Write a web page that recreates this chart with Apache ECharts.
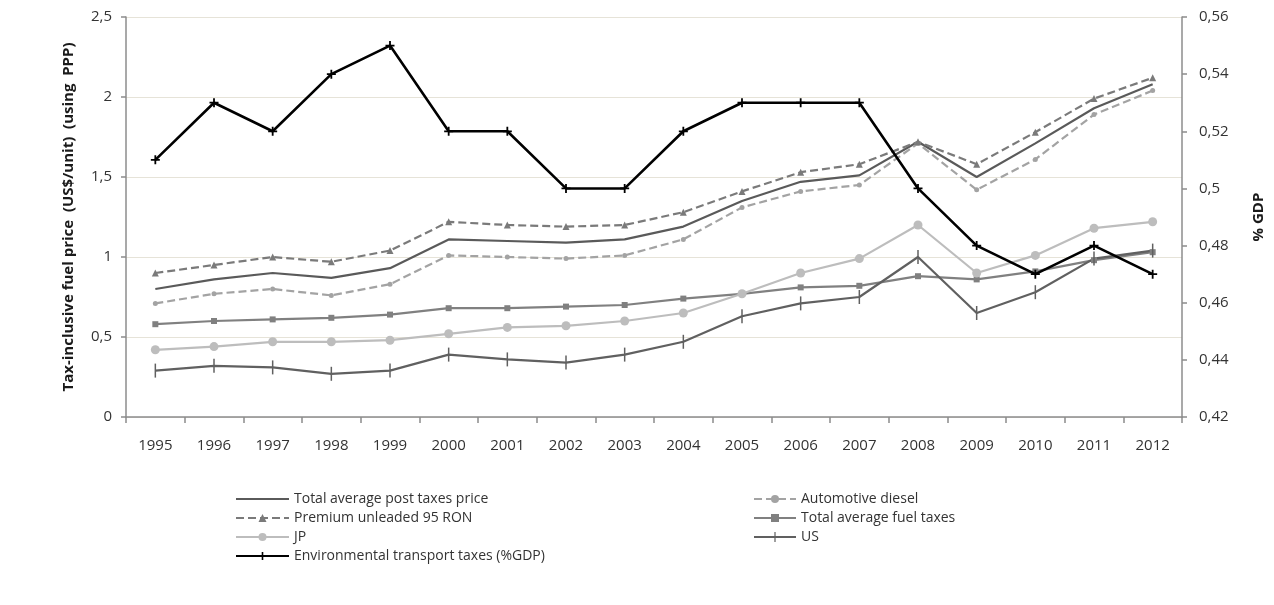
<!DOCTYPE html>
<html>
<head>
<meta charset="utf-8">
<script src="https://cdn.jsdelivr.net/npm/echarts@6/dist/echarts.min.js"></script>
<style>
  html, body { margin: 0; padding: 0; background: #ffffff; }
  #chart { width: 1274px; height: 605px; }
</style>
</head>
<body>
<div id="chart"></div>
<script>
// Fuel prices (US$/unit, PPP) and environmental transport taxes (% of GDP), 1995-2012
const years = ['1995','1996','1997','1998','1999','2000','2001','2002','2003','2004','2005','2006','2007','2008','2009','2010','2011','2012'];

const totalPostTax   = [0.80, 0.86, 0.90, 0.87, 0.93, 1.11, 1.10, 1.09, 1.11, 1.19, 1.35, 1.47, 1.51, 1.72, 1.50, 1.71, 1.93, 2.08];
const diesel         = [0.71, 0.77, 0.80, 0.76, 0.83, 1.01, 1.00, 0.99, 1.01, 1.11, 1.31, 1.41, 1.45, 1.71, 1.42, 1.61, 1.89, 2.04];
const premium95      = [0.90, 0.95, 1.00, 0.97, 1.04, 1.22, 1.20, 1.19, 1.20, 1.28, 1.41, 1.53, 1.58, 1.72, 1.58, 1.78, 1.99, 2.12];
const totalFuelTaxes = [0.58, 0.60, 0.61, 0.62, 0.64, 0.68, 0.68, 0.69, 0.70, 0.74, 0.77, 0.81, 0.82, 0.88, 0.86, 0.91, 0.98, 1.03];
const jp             = [0.42, 0.44, 0.47, 0.47, 0.48, 0.52, 0.56, 0.57, 0.60, 0.65, 0.77, 0.90, 0.99, 1.20, 0.90, 1.01, 1.18, 1.22];
const us             = [0.29, 0.32, 0.31, 0.27, 0.29, 0.39, 0.36, 0.34, 0.39, 0.47, 0.63, 0.71, 0.75, 1.00, 0.65, 0.78, 0.99, 1.04];
const envTaxesGdp    = [0.51, 0.53, 0.52, 0.54, 0.55, 0.52, 0.52, 0.50, 0.50, 0.52, 0.53, 0.53, 0.53, 0.50, 0.48, 0.47, 0.48, 0.47];

const names = {
  total: 'Total average post taxes price',
  diesel: 'Automotive diesel',
  premium: 'Premium unleaded 95 RON',
  taxes: 'Total average fuel taxes',
  jp: 'JP',
  us: 'US',
  env: 'Environmental transport taxes (%GDP)'
};

const FONT = '"Open Sans", Lato, sans-serif';
const comma = v => String(v).replace('.', ',');
const plus = 'path://M4,0 H6 V4 H10 V6 H6 V10 H4 V6 H0 V4 H4 Z';

// legend glyphs: plain line, and line crossed by a short vertical tick
const iconPlainLine = 'path://M0,4.1 H53 V5.9 H0 Z';
const iconTickLine = 'path://M0,4.1 H20.4 V0 H21.6 V4.1 H42 V5.9 H21.6 V10 H20.4 V5.9 H0 Z';

const chart = echarts.init(document.getElementById('chart'), null, { renderer: 'canvas' });

const legendText = { fontFamily: FONT, fontSize: 14, color: '#333333', lineHeight: 16 };

chart.setOption({
  animation: false,
  backgroundColor: '#ffffff',
  grid: { left: 126, right: 89, top: 17, bottom: 188, containLabel: false },
  legend: [
    {
      orient: 'vertical', left: 230, top: 486, itemGap: 3,
      itemWidth: 53, itemHeight: 10,
      textStyle: legendText,
      data: [
        { name: names.total, icon: iconPlainLine },
        names.premium, names.jp, names.env
      ]
    },
    {
      orient: 'vertical', left: 748, top: 486, itemGap: 3,
      itemWidth: 42, itemHeight: 10,
      textStyle: legendText,
      data: [
        names.diesel, names.taxes,
        { name: names.us, icon: iconTickLine }
      ]
    }
  ],
  xAxis: {
    type: 'category',
    data: years,
    boundaryGap: true,
    axisLine: { lineStyle: { color: '#8c8c8c', width: 1.5 } },
    axisTick: { show: true, length: 6, lineStyle: { color: '#8c8c8c', width: 1.5 } },
    axisLabel: { fontFamily: FONT, fontSize: 15, color: '#333333', margin: 21 }
  },
  yAxis: [
    {
      type: 'value', min: 0, max: 2.5, interval: 0.5, position: 'left',
      name: 'Tax-inclusive fuel price  (US$/unit)  (using  PPP)',
      nameLocation: 'middle', nameRotate: 90, nameGap: 50,
      nameTextStyle: { fontFamily: FONT, fontSize: 15, fontWeight: 'bold', color: '#1a1a1a' },
      axisLine: { show: true, lineStyle: { color: '#8c8c8c', width: 1.5 } },
      axisTick: { show: true, length: 5, lineStyle: { color: '#8c8c8c', width: 1.5 } },
      axisLabel: { fontFamily: FONT, fontSize: 15, color: '#333333', margin: 14, formatter: comma },
      splitLine: { show: true, lineStyle: { color: '#e6e3d8', width: 1.2 } }
    },
    {
      type: 'value', min: 0.42, max: 0.56, interval: 0.02, position: 'right',
      name: '% GDP',
      nameLocation: 'middle', nameRotate: 90, nameGap: 69,
      nameTextStyle: { fontFamily: FONT, fontSize: 15, fontWeight: 'bold', color: '#1a1a1a' },
      axisLine: { show: true, lineStyle: { color: '#8c8c8c', width: 1.5 } },
      axisTick: { show: true, length: 5, lineStyle: { color: '#8c8c8c', width: 1.5 } },
      axisLabel: {
        fontFamily: FONT, fontSize: 15, color: '#333333', margin: 17,
        formatter: v => comma(Math.round(v * 100) / 100)
      },
      splitLine: { show: false }
    }
  ],
  series: [
    {
      name: names.total, type: 'line', data: totalPostTax, yAxisIndex: 0,
      symbol: 'none', color: '#5a5a5a',
      itemStyle: { color: '#5a5a5a' },
      lineStyle: { color: '#5a5a5a', width: 2.2 }, z: 3
    },
    {
      name: names.diesel, type: 'line', data: diesel, yAxisIndex: 0,
      symbol: 'circle', symbolSize: 5, color: '#a3a3a3',
      itemStyle: { color: '#a3a3a3' },
      lineStyle: { color: '#a3a3a3', width: 2.2, type: [8, 4] }, z: 3
    },
    {
      name: names.premium, type: 'line', data: premium95, yAxisIndex: 0,
      symbol: 'triangle', symbolSize: 7, color: '#7a7a7a',
      itemStyle: { color: '#7a7a7a' },
      lineStyle: { color: '#7a7a7a', width: 2.2, type: [8, 4] }, z: 3
    },
    {
      name: names.taxes, type: 'line', data: totalFuelTaxes, yAxisIndex: 0,
      symbol: 'rect', symbolSize: 6, color: '#808080',
      itemStyle: { color: '#808080' },
      lineStyle: { color: '#808080', width: 2.2 }, z: 3
    },
    {
      name: names.jp, type: 'line', data: jp, yAxisIndex: 0,
      symbol: 'circle', symbolSize: 9, color: '#bdbdbd',
      itemStyle: { color: '#bdbdbd' },
      lineStyle: { color: '#bdbdbd', width: 2.2 }, z: 3
    },
    {
      name: names.us, type: 'line', data: us, yAxisIndex: 0,
      symbol: 'rect', symbolSize: [1.5, 14], color: '#606060',
      itemStyle: { color: '#606060' },
      lineStyle: { color: '#606060', width: 2.2 }, z: 3
    },
    {
      name: names.env, type: 'line', data: envTaxesGdp, yAxisIndex: 1,
      symbol: plus, symbolSize: 9, color: '#000000',
      itemStyle: { color: '#000000' },
      lineStyle: { color: '#000000', width: 2.6 }, z: 4
    }
  ]
});
</script>
</body>
</html>
